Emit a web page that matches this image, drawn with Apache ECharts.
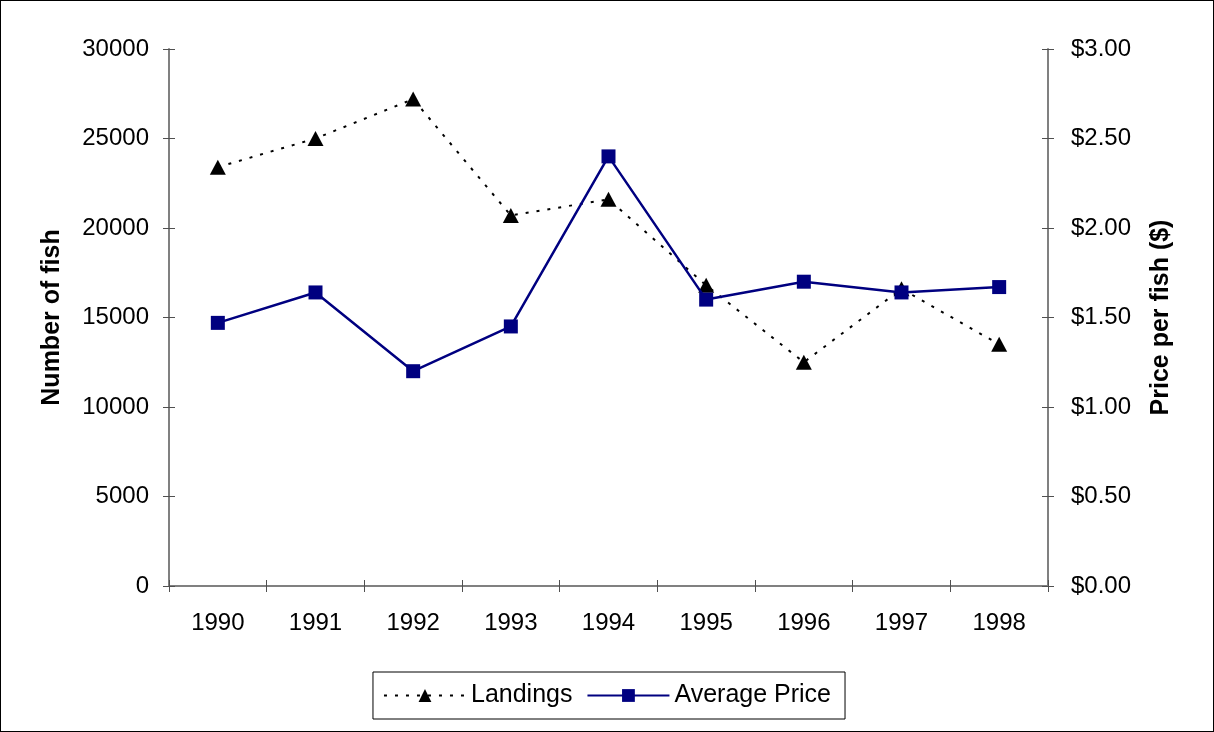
<!DOCTYPE html>
<html>
<head>
<meta charset="utf-8">
<script src="https://cdn.jsdelivr.net/npm/echarts@6/dist/echarts.min.js"></script>
<style>
  html, body { margin: 0; padding: 0; background: #fff; }
  #chart { width: 1214px; height: 732px; box-sizing: border-box; border: 1px solid #000; }
</style>
</head>
<body>
<div id="chart"></div>
<script>
// Annual landings and average price per fish
const years = ['1990', '1991', '1992', '1993', '1994', '1995', '1996', '1997', '1998'];
const landings = [23400, 25000, 27200, 20700, 21600, 16800, 12500, 16600, 13500];
const avgPrice = [1.47, 1.64, 1.20, 1.45, 2.40, 1.60, 1.70, 1.64, 1.67];

const FONT = '"Liberation Sans", Arial, sans-serif';
const axisGray = '#808080';
const tickGray = '#505050';

const chart = echarts.init(document.getElementById('chart'));

// shared axis-line look
const lineStyle = { show: true, lineStyle: { color: axisGray, width: 2 } };
const tick = inside => ({ show: true, inside, length: 6, lineStyle: { color: tickGray, width: 1 } });

chart.setOption({
  backgroundColor: '#fff',
  animation: false,
  grid: { left: 168, right: 165, top: 48, bottom: 145, containLabel: false },
  legend: {
    bottom: 12,
    left: 'center',
    data: ['Landings', 'Average Price'],
    itemWidth: 82,
    itemHeight: 16,
    itemGap: 14,
    padding: [11, 14, 11, 10],
    borderColor: '#000',
    borderWidth: 1,
    textStyle: { fontFamily: FONT, fontSize: 25, color: '#000' }
  },
  xAxis: [
    {
      type: 'category',
      data: years,
      boundaryGap: true,
      axisLine: lineStyle,
      axisTick: tick(false),
      axisLabel: { fontFamily: FONT, fontSize: 24, color: '#000', margin: 25 },
      splitLine: { show: false }
    },
    {
      // inward tick half, so ticks cross the axis line
      type: 'category',
      data: years,
      boundaryGap: true,
      position: 'bottom',
      axisLine: { show: false },
      axisTick: tick(true),
      axisLabel: { show: false },
      splitLine: { show: false }
    }
  ],
  yAxis: [
    {
      type: 'value',
      min: 0, max: 30000, interval: 5000,
      position: 'left',
      name: 'Number of fish',
      nameLocation: 'middle',
      nameGap: 104,
      nameRotate: 90,
      nameTextStyle: { fontFamily: FONT, fontSize: 25, fontWeight: 'bold', color: '#000' },
      axisLine: lineStyle,
      axisTick: tick(false),
      axisLabel: { fontFamily: FONT, fontSize: 24, color: '#000', margin: 20, formatter: v => String(v) },
      splitLine: { show: false }
    },
    {
      type: 'value',
      min: 0, max: 3, interval: 0.5,
      position: 'right',
      name: 'Price per fish ($)',
      nameLocation: 'middle',
      nameGap: 101,
      nameRotate: 90,
      nameTextStyle: { fontFamily: FONT, fontSize: 25, fontWeight: 'bold', color: '#000' },
      axisLine: lineStyle,
      axisTick: tick(false),
      axisLabel: {
        fontFamily: FONT, fontSize: 24, color: '#000', margin: 23,
        formatter: v => '$' + v.toFixed(2)
      },
      splitLine: { show: false }
    },
    {
      type: 'value',
      min: 0, max: 30000, interval: 5000,
      position: 'left',
      axisLine: { show: false },
      axisTick: tick(true),
      axisLabel: { show: false },
      splitLine: { show: false }
    },
    {
      type: 'value',
      min: 0, max: 3, interval: 0.5,
      position: 'right',
      axisLine: { show: false },
      axisTick: tick(true),
      axisLabel: { show: false },
      splitLine: { show: false }
    }
  ],
  series: [
    {
      name: 'Landings',
      type: 'line',
      xAxisIndex: 0,
      yAxisIndex: 0,
      data: landings,
      symbol: 'triangle',
      symbolSize: [16, 15],
      itemStyle: { color: '#000' },
      lineStyle: { color: '#000', width: 2, type: [3, 8] },
      z: 2
    },
    {
      name: 'Average Price',
      type: 'line',
      xAxisIndex: 0,
      yAxisIndex: 1,
      data: avgPrice,
      symbol: 'rect',
      symbolSize: 14,
      itemStyle: { color: '#000080' },
      lineStyle: { color: '#000080', width: 2.5 },
      z: 3
    }
  ]
});
</script>
</body>
</html>
